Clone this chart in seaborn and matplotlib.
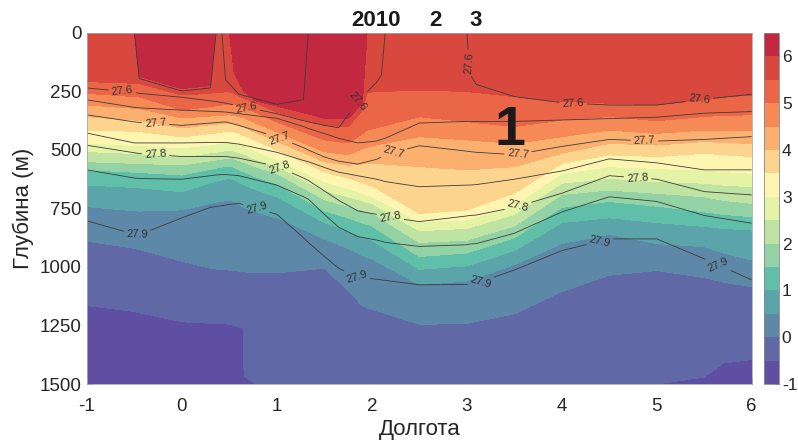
import numpy as np
import matplotlib
matplotlib.use("Agg")
import matplotlib.pyplot as plt
import seaborn as sns

# ---- temperature: depth (m) of every isotherm at each longitude ----
t_lon = [-1, -0.5, -0.45, 0, 0.3, 0.35, 0.5, 0.55, 0.645, 0.655, 0.78, 1, 1.5, 1.75, 1.9, 1.95,
         2, 2.5, 3, 3.5, 4, 4.5, 5, 5.5, 5.7, 6]
t60 = [0, 0, 185, 238, 225, 0, 0, 170, 245, 250, 290, 312, 364, 365, 300, 0,
       0, 0, 0, 0, 0, 0, 0, 0, 0, 0]
t55 = [208, 215, 216, 265, 258, 253, 252, 258, 278, 280, 300, 338, 395, 400, 330, 255,
       252, 244, 250, 272, 293, 300, 307, 286, 275, 265]
t50 = [258, 272, 273, 329, 315, 312, 303, 305, 317, 318, 340, 380, 457, 470, 430, 415,
       410, 358, 379, 400, 372, 357, 375, 357, 352, 350]
t45 = [308, 322, 323, 363, 355, 353, 350, 352, 362, 363, 385, 423, 507, 520, 495, 488,
       482, 443, 457, 472, 443, 415, 429, 415, 415, 415]
t40 = [358, 372, 373, 406, 392, 390, 385, 388, 402, 403, 425, 462, 550, 565, 560, 558,
       556, 571, 585, 571, 514, 472, 479, 464, 468, 472]
t35 = [415, 420, 421, 444, 430, 428, 419, 422, 437, 438, 460, 500, 593, 620, 640, 648,
       653, 771, 756, 685, 557, 521, 528, 514, 520, 528]
t30 = [471, 480, 481, 491, 478, 475, 466, 470, 482, 483, 505, 540, 635, 665, 685, 693,
       698, 805, 799, 735, 600, 571, 580, 585, 592, 600]
t25 = [507, 515, 516, 530, 512, 510, 500, 504, 517, 518, 540, 570, 673, 700, 718, 724,
       728, 845, 835, 775, 642, 621, 635, 642, 650, 657]
t20 = [550, 557, 558, 564, 546, 543, 534, 538, 552, 553, 572, 600, 712, 740, 758, 764,
       768, 895, 885, 825, 690, 671, 685, 700, 715, 728]
t15 = [585, 595, 596, 607, 582, 578, 568, 574, 593, 594, 615, 645, 760, 790, 812, 818,
       824, 955, 940, 875, 745, 720, 740, 764, 775, 785]
t10 = [650, 660, 661, 679, 640, 635, 620, 628, 648, 650, 670, 700, 810, 845, 870, 878,
       885, 1010, 995, 930, 810, 790, 810, 827, 835, 842]
t05 = [742, 760, 761, 756, 728, 724, 714, 720, 743, 745, 765, 790, 880, 920, 950, 958,
       965, 1075, 1060, 990, 900, 860, 900, 913, 940, 970]
t00 = [890, 920, 925, 975, 1005, 1008, 1013, 1015, 1020, 1021, 1023, 1025, 1005, 1100, 1165, 1175,
       1180, 1245, 1241, 1200, 1105, 1035, 1015, 1045, 1065, 1084]
tm05 = [1165, 1190, 1195, 1234, 1240, 1242, 1244, 1250, 1262, 1465, 1500, 1500, 1500, 1500, 1500, 1500,
        1500, 1500, 1500, 1500, 1500, 1500, 1500, 1470, 1410, 1395]
t_iso = [6.0, 5.5, 5.0, 4.5, 4.0, 3.5, 3.0, 2.5, 2.0, 1.5, 1.0, 0.5, 0.0, -0.5]
t_depth = [t60, t55, t50, t45, t40, t35, t30, t25, t20, t15, t10, t05, t00, tm05]

# ---- potential density: depth (m) of every isopycnal ----
s_lon = [-1, -0.5, -0.45, 0, 0.3, 0.36, 0.42, 0.46, 0.6, 1, 1.28, 1.33, 1.5, 1.65,
         1.85, 2.05, 2.1, 2.14, 2.5, 3.0, 3.03, 3.1, 3.5, 4, 4.5, 5, 5.5, 6]
s2755 = [0, 0, 195, 248, 235, 0, 0, 200, 262, 305, 285, 0, 0, 0,
         0, 0, 0, 0, 0, 0, 0, 0, 0, 0, 0, 0, 0, 0]
s2760 = [235, 255, 258, 275, 290, 293, 297, 300, 312, 345, 375, 380, 395, 405,
         295, 210, 180, 0, 0, 0, 175, 220, 272, 298, 308, 308, 283, 262]
s2765 = [286, 318, 320, 330, 335, 336, 337, 338, 345, 365, 400, 408, 430, 450,
         470, 462, 455, 450, 385, 378, 378, 378, 378, 372, 366, 360, 343, 336]
s2770 = [350, 380, 382, 395, 385, 383, 381, 380, 395, 445, 490, 500, 530, 548,
         560, 540, 530, 520, 482, 505, 507, 510, 520, 485, 455, 462, 455, 443]
s2775 = [428, 470, 470, 470, 468, 468, 468, 468, 475, 510, 545, 550, 575, 595,
         610, 625, 630, 635, 657, 650, 650, 648, 625, 590, 538, 555, 585, 585]
s2780 = [480, 512, 515, 528, 528, 528, 528, 528, 535, 570, 620, 630, 675, 715,
         760, 775, 780, 785, 806, 782, 780, 778, 745, 685, 610, 625, 678, 692]
s2785 = [585, 620, 622, 625, 610, 607, 605, 605, 610, 650, 700, 710, 775, 830,
         870, 885, 890, 895, 912, 905, 902, 900, 856, 765, 700, 720, 780, 813]
s2790 = [803, 860, 862, 790, 745, 742, 738, 735, 728, 775, 875, 895, 955, 1005,
         1045, 1052, 1055, 1057, 1076, 1075, 1074, 1070, 1013, 930, 880, 880, 965, 1055]
s_iso = [27.55, 27.6, 27.65, 27.7, 27.75, 27.8, 27.85, 27.9]
s_depth = [s2755, s2760, s2765, s2770, s2775, s2780, s2785, s2790]
s_labeled = [27.6, 27.7, 27.8, 27.9]
s_plain = [27.55, 27.65, 27.75, 27.85]
# where the isopycnal labels sit (lon, depth)
s_label_pos = [(-0.63, 251), (0.68, 315), (1.87, 300), (3.01, 129), (4.12, 303), (5.45, 286),
               (-0.28, 400), (1.02, 455), (2.22, 493), (3.54, 521), (4.87, 464),
               (-0.28, 530), (1.02, 578), (2.19, 799), (3.54, 742), (4.8, 614),
               (-0.47, 863), (0.79, 742), (1.84, 1041), (3.15, 1063), (4.4, 885), (5.63, 1006)]

band_colors = ["#5e4fa2", "#6068a5", "#5e88a8", "#5ba4aa", "#5fbfa8", "#92d2a5", "#bfe3a2",
               "#e4f3a6", "#fef5b1", "#fdd48e", "#fbb06f", "#f68a57", "#eb6647", "#d8483f",
               "#c2283f"]

sns.set_theme(style="ticks")
plt.rcParams['font.family'] = ['Liberation Sans', 'DejaVu Sans']
plt.rcParams['axes.unicode_minus'] = False

fig = plt.figure(figsize=(7.98, 4.45), dpi=100)
ax = fig.add_axes([0.109, 0.137, 0.833, 0.789])
cax = fig.add_axes([0.9575, 0.137, 0.0188, 0.789])

# temperature grid: isotherm rows plus surface and bottom rows
n = len(t_lon)
Zt = np.array([[6.3] * n] + [[v] * n for v in t_iso] + [[-0.8] * n])
Yt = np.array([[0] * n] + t_depth + [[1500] * n], dtype=float)
Xt = np.tile(np.array(t_lon, dtype=float), (Zt.shape[0], 1))
cf = ax.contourf(Xt, Yt, Zt, levels=np.arange(-1, 6.6, 0.5), colors=band_colors)

m = len(s_lon)
Zs = np.array([[27.5] * m] + [[v] * m for v in s_iso] + [[28.0] * m])
Ys = np.array([[0] * m] + s_depth + [[1500] * m], dtype=float)
Xs = np.tile(np.array(s_lon, dtype=float), (Zs.shape[0], 1))
ax.contour(Xs, Ys, Zs, levels=s_plain, colors='#3c3c3c', linewidths=0.6)
cs = ax.contour(Xs, Ys, Zs, levels=s_labeled, colors='#3c3c3c', linewidths=0.6)
ax.clabel(cs, manual=s_label_pos, fmt='%.1f', fontsize=8,
          inline=True, inline_spacing=3, colors='#333333')

ax.set_xlim(-1, 6)
ax.set_ylim(1500, 0)
ax.set_xticks(range(-1, 7))
ax.set_yticks(range(0, 1501, 250))
ax.tick_params(direction='in', length=4, width=0.6, color='#555555',
               labelsize=13.5, labelcolor='#262626')
ax.tick_params(axis='x', pad=10)
ax.tick_params(axis='y', pad=4)
for sp in ax.spines.values():
    sp.set_color('#aaaaaa')
    sp.set_linewidth(0.6)
ax.set_xlabel('Долгота', fontsize=16, color='#262626', labelpad=3)
ax.set_ylabel('Глубина (м)', fontsize=16, color='#262626', labelpad=4)

# labels above the section and the station number
tr = ax.get_xaxis_transform()
for xx, txt in [(2.04, '2010'), (2.67, '2'), (3.09, '3')]:
    ax.text(xx, 1.036, txt, transform=tr, ha='center', va='center',
            fontsize=16, fontweight='bold', color='k')
ax.text(3.45, 420, '1', ha='center', va='center', fontsize=40, fontweight='bold', color='k')

cb = fig.colorbar(cf, cax=cax, ticks=range(-1, 7))
cb.outline.set_edgecolor('#888888')
cb.outline.set_linewidth(0.6)
cax.tick_params(labelsize=12.5, length=3, width=0.6, pad=2, direction='in',
                color='#555555', labelcolor='#262626')

fig.savefig('out.png', dpi=100)
